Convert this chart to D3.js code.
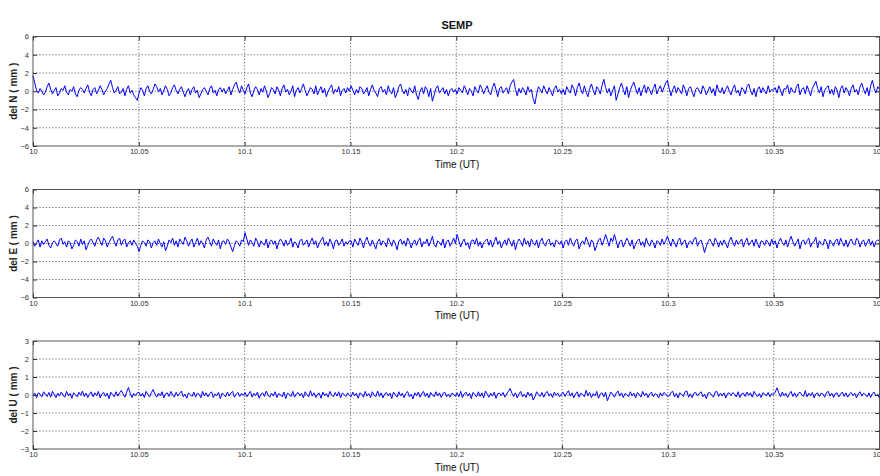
<!DOCTYPE html>
<html>
<head>
<meta charset="utf-8">
<script src="https://cdn.jsdelivr.net/npm/d3@7"></script>
<style>
  body { margin: 0; background: #fff; }
  svg { display: block; font-family: "Liberation Sans", Arial, sans-serif; }
  .tick text { font-size: 7.5px; fill: #333; }
  .domain { display: none; }
</style>
</head>
<body>
<script>
// sampled series, SEMP station, 10.0 .. 10.4 UT, evenly spaced samples
var timeStart = 10.0, timeEnd = 10.4;
var timeTicks = [10, 10.05, 10.1, 10.15, 10.2, 10.25, 10.3, 10.35, 10.4];
var neTicks = [-6, -4, -2, 0, 2, 4, 6];
var upTicks = [-3, -2, -1, 0, 1, 2, 3];

var delN = [
  1.7, 0.9, 0.1, -0.2, 0.3, 0.0, -0.4, -0.1, 0.5, 0.9, 0.2, -0.3, 0.1, 0.4, -0.5, -0.2, 0.3, 0.1, 0.6, -0.1, -0.4, 0.2, 0.0, 0.5, -0.3, -0.6, 0.1, 0.4, 0.2, -0.2,
  0.3, 0.7, -0.1, -0.5, 0.2, 0.4, -0.3, 0.1, 0.6, 0.2, -0.4, 0.0, 0.3, 0.8, 1.2, 0.4, -0.2, 0.1, 0.5, -0.3, -0.1, 0.3, -0.5, 0.2, 0.6, -0.2, 0.1, -0.4, -0.7, -1.0,
  -0.2, 0.4, 0.1, -0.5, 0.3, 0.6, 0.0, -0.3, 0.2, 0.8, 0.5, -0.1, 0.3, -0.4, 0.1, 0.6, 0.2, -0.5, -0.2, 0.4, 0.7, 0.1, -0.3, 0.2, 0.5, -0.1, -0.6, 0.0, 0.3, -0.4,
  0.2, 0.5, -0.2, 0.1, -0.7, -0.3, 0.2, 0.4, 0.0, -0.4, 0.3, 0.6, -0.2, 0.1, -0.5, 0.2, 0.4, -0.1, 0.3, -0.3, 0.1, 0.5, -0.4, 0.2, 0.7, 1.0, 0.3, -0.2, 0.6, 0.1,
  -0.3, 0.4, 0.8, -0.2, -0.6, 0.1, 0.5, 0.2, -0.4, 0.3, -0.1, 0.6, 0.0, -0.7, -0.2, 0.4, 0.2, -0.3, 0.5, 0.1, -0.5, 0.3, 0.7, -0.1, 0.2, -0.4, 0.0, 0.6, -0.6, 0.1,
  0.4, -0.2, 0.3, 0.8, 0.1, -0.5, -0.1, 0.4, 0.2, -0.3, 0.6, -0.4, 0.1, 0.5, -0.2, 0.3, -0.6, 0.0, 0.4, 0.7, -0.3, 0.2, -0.1, 0.5, -0.5, 0.1, 0.3, -0.2, 0.4, 0.0,
  0.6, 0.1, -0.4, 0.2, -0.2, 0.5, 0.3, -0.3, 0.0, 0.4, -0.5, 0.2, 0.7, 0.1, -0.2, -0.6, 0.3, 0.5, -0.1, 0.2, -0.4, 0.6, 0.0, -0.3, 0.4, -0.7, -0.2, 0.5, 0.8, 0.1,
  -0.3, 0.2, -0.5, 0.4, 0.1, -0.2, 0.6, -0.4, -0.9, 0.0, 0.4, -0.3, 0.5, 0.2, -0.6, 0.3, -1.1, -0.4, 0.3, 0.6, -0.2, 0.1, 0.4, -0.3, 0.2, -0.5, 0.1, 0.3, -0.1, 0.2,
  -0.3, 0.4, 0.1, -0.2, 0.6, 0.2, -0.4, 0.3, 0.0, -0.5, 0.5, 0.1, -0.2, 0.7, 0.3, -0.3, 0.2, 0.6, -0.1, -0.4, 0.4, 0.9, 0.2, -0.6, 0.3, 0.5, -0.2, 0.1, 0.4, -0.3,
  0.6, 1.0, 1.3, 0.2, -0.5, 0.3, -0.2, 0.4, 0.1, -0.4, 0.5, -0.1, 0.2, -0.8, -1.4, -0.3, 0.5, 0.2, -0.2, 0.6, 0.1, -0.3, 0.4, 0.0, -0.5, 0.3, 0.6, -0.1, 0.2, -0.3,
  0.2, -0.4, 0.5, 0.1, -0.2, 0.7, 0.3, -0.5, 0.4, 0.9, 0.2, -0.3, 0.6, -0.1, -0.6, 0.3, 0.8, 0.1, -0.4, 0.5, 0.2, -0.3, 0.6, 1.3, 0.4, -0.2, 0.3, -0.5, 0.1, 0.6,
  -1.0, -0.3, 0.4, 0.9, 0.2, -0.4, 0.5, -0.7, 0.1, 0.6, 1.0, 0.3, -0.3, 0.4, -0.5, 0.2, 0.7, -0.2, 0.5, 0.1, -0.4, 0.3, 0.8, -0.3, 0.2, 0.6, -0.1, 0.4, 0.9, 1.2,
  0.3, -0.5, 0.2, 0.6, -0.2, 0.4, 0.1, -0.3, 0.7, 0.2, -0.5, 0.3, 0.5, -0.1, -0.6, 0.2, 0.4, 0.0, -0.3, 0.6, 0.2, -0.4, 0.1, 0.5, -0.2, 0.3, -0.5, 0.7, 0.1, -0.2,
  0.4, -0.3, 0.2, 0.6, 0.0, -0.4, 0.3, 0.7, -0.2, 0.1, -0.5, 0.4, 0.2, -0.3, 0.5, 0.8, 0.1, -0.4, 0.3, -0.6, 0.2, 0.5, -0.2, 0.4, 0.0, -0.3, 0.6, -0.1, 0.2, 0.1,
  0.4, -0.2, 0.6, 0.1, -0.5, 0.3, 0.2, 0.7, -0.3, 0.4, 0.0, -0.2, 0.5, 0.8, -0.4, 0.2, 0.4, -0.3, 0.6, 0.1, -0.5, 0.3, 0.7, 1.1, 0.3, -0.2, 0.5, -0.6, 0.1, 0.4,
  0.6, -0.3, 0.2, -0.4, 0.5, 0.1, -0.7, 0.3, 0.6, -0.2, 0.4, 0.1, -0.5, 0.3, 0.7, -0.1, 0.2, -0.4, 0.5, 0.9, 0.2, -0.3, 0.4, -0.5, 0.6, 1.2, 0.3, -0.2, 0.5, 0.2
];

var delE = [
  0.2, -0.3, 0.1, 0.4, -0.4, 0.3, -0.1, 0.2, 0.5, -0.2, -0.5, 0.1, 0.3, 0.0, -0.3, 0.4, 0.6, -0.1, 0.2, -0.4, 0.3, 0.1, -0.6, -0.2, 0.4, 0.2, -0.3, 0.5, -0.1, 0.3,
  -0.7, -0.2, 0.3, 0.5, 0.1, -0.3, 0.4, 0.7, 0.2, -0.2, 0.6, 0.3, -0.4, 0.1, 0.5, 0.8, 0.2, -0.3, 0.4, 0.6, -0.2, 0.3, 0.5, -0.4, 0.1, 0.3, -0.2, 0.4, 0.0, -0.3,
  -0.9, -0.2, 0.3, 0.1, -0.3, 0.4, 0.2, -0.5, 0.1, 0.3, -0.2, 0.5, 0.0, -0.4, 0.2, -0.8, -0.3, 0.4, 0.1, 0.6, -0.2, 0.3, -0.4, 0.5, 0.2, -0.1, 0.7, 0.3, -0.3, 0.2,
  0.5, -0.4, 0.1, 0.6, -0.2, 0.3, 0.0, -0.5, 0.4, 0.7, 0.2, -0.3, 0.5, 0.1, -0.2, 0.4, -0.6, 0.2, 0.3, -0.1, 0.5, 0.2, -0.4, -0.9, -0.2, 0.3, 0.1, -0.3, 0.4, 0.2,
  1.2, 0.5, -0.2, 0.4, 0.1, -0.3, 0.6, 0.2, -0.4, 0.3, 0.0, -0.2, 0.5, -0.5, 0.2, 0.4, -0.1, 0.3, -0.6, 0.1, 0.5, 0.2, -0.3, 0.4, -0.2, 0.1, 0.6, -0.4, 0.2, 0.0,
  -0.5, 0.3, 0.5, -0.2, 0.1, 0.4, -0.4, 0.2, 0.6, -0.1, 0.3, -0.5, 0.0, 0.4, 0.7, -0.2, 0.2, -0.3, 0.5, 0.1, -0.6, 0.3, 0.4, -0.2, 0.1, 0.5, -0.3, 0.2, -0.1, 0.3,
  0.3, -0.4, 0.5, 0.1, -0.2, 0.6, 0.2, -0.5, 0.3, 0.7, 0.0, -0.3, 0.4, -0.1, -0.6, 0.2, 0.5, -0.2, 0.3, 0.1, -0.4, 0.6, 0.2, -0.3, 0.4, 0.0, -0.7, 0.2, 0.5, -0.1,
  0.3, -0.3, 0.6, 0.2, -0.5, 0.1, 0.4, -0.2, 0.3, 0.6, -0.4, 0.2, 0.0, 0.5, -0.3, 0.2, 0.8, -0.1, -0.4, 0.3, 0.1, -0.2, 0.5, -0.5, 0.2, 0.4, -0.3, 0.1, 0.6, 0.0,
  1.0, 0.3, -0.4, 0.2, 0.5, -0.2, 0.1, -0.6, 0.3, 0.4, -0.1, 0.6, -0.3, 0.2, -0.5, 0.1, 0.3, 0.5, -0.2, 0.4, -0.4, 0.2, 0.7, -0.1, 0.3, -0.5, 0.0, 0.4, -0.2, 0.6,
  0.2, -0.3, 0.4, -0.7, 0.1, 0.5, 0.2, -0.3, 0.6, -0.1, 0.3, -0.4, 0.5, 0.1, -0.2, 0.4, -0.5, 0.2, 0.6, 0.0, -0.3, 0.3, 0.5, -0.2, 0.1, -0.4, 0.4, 0.2, -0.1, 0.3,
  -0.5, 0.2, 0.4, -0.2, 0.6, 0.1, -0.3, 0.3, 0.5, -0.6, 0.0, 0.3, -0.1, 0.7, 0.2, -0.4, 0.4, 0.1, -0.8, -0.2, 0.4, 0.6, -0.2, 0.3, 1.0, 0.4, -0.3, 0.6, 0.2, 1.0,
  0.3, -0.5, 0.2, 0.4, -0.4, 0.1, 0.6, 0.2, -0.3, 0.4, -0.6, -0.1, 0.3, 0.5, -0.2, 0.2, -0.4, 0.6, 0.0, -0.3, 0.4, 0.1, -0.5, 0.3, 0.2, -0.2, 0.5, -0.1, 0.3, 0.8,
  0.2, -0.3, 0.5, 0.1, -0.4, 0.3, 0.6, -0.2, 0.2, 0.4, -0.5, 0.1, 0.3, -0.1, 0.5, 0.7, -0.3, 0.2, 0.4, -0.2, -1.0, -0.3, 0.2, 0.5, 0.1, -0.3, 0.6, 0.2, -0.4, 0.3,
  -0.2, 0.4, 0.0, -0.5, 0.3, 0.7, 0.1, -0.3, 0.4, -0.1, 0.2, 0.5, -0.4, 0.2, 0.6, -0.2, 0.1, 0.4, -0.3, 0.5, 0.0, -0.5, 0.3, 0.2, -0.2, 0.4, 0.1, -0.3, 0.5, -0.1,
  0.3, -0.5, 0.2, 0.6, 0.1, -0.2, 0.4, -0.4, 0.3, 0.8, 0.2, -0.3, 0.1, 0.5, -0.6, 0.2, 0.4, -0.1, 0.3, 0.6, -0.4, 0.1, 0.2, 0.7, -0.5, 0.3, 0.0, -0.2, 0.5, 0.2,
  -0.6, 0.4, 0.1, -0.3, 0.3, 0.5, -0.2, 0.6, 0.1, -0.3, 0.4, -0.4, 0.2, 0.5, 0.0, -0.2, 0.6, 0.3, -0.4, 0.2, 0.4, -0.3, 0.1, 0.5, -0.2, 0.3, -0.4, 0.2, 0.4, 0.3
];

var delU = [
  -0.05, 0.1, -0.15, 0.12, 0.05, -0.1, 0.18, 0.02, -0.08, 0.14, -0.12, 0.2, 0.04, -0.15, 0.1, -0.06, 0.16, 0.0, -0.12, 0.2, -0.05, 0.08, -0.18, 0.12, 0.03, -0.1, 0.15, -0.02, 0.22, -0.08,
  0.1, -0.14, 0.05, 0.18, -0.1, 0.12, -0.04, 0.2, -0.16, 0.06, 0.14, -0.08, 0.1, -0.2, 0.15, 0.02, -0.1, 0.18, -0.06, 0.12, 0.25, 0.05, -0.12, 0.16, 0.42, 0.1, -0.14, 0.08, -0.05, 0.12,
  0.15, -0.06, 0.1, -0.14, 0.2, 0.02, -0.1, 0.14, 0.3, 0.05, -0.12, 0.1, -0.04, 0.18, -0.16, 0.06, 0.12, -0.08, 0.2, 0.0, -0.12, 0.15, -0.06, 0.1, 0.22, -0.1, 0.05, -0.18, 0.12, 0.02,
  -0.08, 0.16, -0.12, 0.1, 0.04, -0.15, 0.2, -0.05, 0.12, -0.1, 0.08, 0.18, -0.14, 0.06, -0.04, 0.14, -0.2, 0.1, 0.02, -0.1, 0.16, -0.06, 0.12, 0.2, -0.12, 0.05, 0.14, -0.08, 0.1, -0.02,
  0.14, -0.1, 0.06, 0.2, -0.12, 0.1, -0.04, 0.16, -0.18, 0.05, 0.12, -0.08, 0.22, 0.0, -0.12, 0.1, -0.06, 0.18, -0.14, 0.08, 0.02, -0.1, 0.16, -0.2, 0.1, 0.04, -0.08, 0.2, -0.12, 0.06,
  0.14, -0.05, 0.1, -0.16, 0.18, 0.02, -0.1, 0.24, -0.06, 0.12, -0.14, 0.05, 0.1, -0.18, 0.16, -0.04, 0.08, -0.12, 0.2, 0.0, -0.1, 0.14, -0.06, 0.18, -0.16, 0.1, 0.04, -0.08, 0.12, -0.02,
  -0.1, 0.16, -0.04, 0.1, -0.18, 0.12, 0.05, -0.12, 0.2, -0.06, 0.08, -0.14, 0.18, 0.0, -0.1, 0.22, -0.08, 0.12, -0.16, 0.06, 0.14, -0.05, 0.1, -0.2, 0.16, 0.02, -0.12, 0.18, -0.06, 0.1,
  -0.15, 0.08, 0.2, -0.1, 0.04, -0.22, 0.12, -0.04, 0.16, -0.12, 0.06, 0.2, -0.08, 0.1, -0.16, 0.14, 0.0, -0.1, 0.18, -0.05, 0.12, -0.14, 0.08, 0.16, -0.1, 0.04, -0.12, 0.1, 0.05, -0.08,
  0.12, -0.1, 0.2, -0.14, 0.06, 0.16, -0.06, 0.1, -0.2, 0.14, 0.02, -0.1, 0.18, -0.08, 0.12, -0.16, 0.22, 0.04, -0.12, 0.1, -0.06, 0.16, -0.18, 0.08, 0.1, -0.04, 0.14, -0.12, 0.05, 0.2,
  0.36, 0.1, -0.08, 0.12, -0.16, 0.06, 0.2, -0.1, 0.04, -0.14, 0.16, -0.06, 0.1, -0.28, -0.1, 0.18, 0.02, -0.08, 0.14, -0.12, 0.1, 0.2, -0.06, 0.08, -0.14, 0.16, -0.02, 0.1, -0.1, 0.06,
  0.15, -0.08, 0.1, 0.24, -0.06, 0.12, -0.16, 0.05, 0.18, -0.12, 0.1, 0.02, -0.1, 0.26, -0.04, 0.14, -0.15, 0.08, -0.05, 0.2, -0.18, 0.06, 0.12, -0.1, 0.16, -0.32, -0.08, 0.16, 0.04, -0.12,
  0.1, 0.22, -0.06, 0.12, -0.14, 0.08, 0.02, -0.1, 0.18, -0.06, 0.1, -0.16, 0.14, 0.04, -0.12, 0.2, -0.04, 0.1, -0.14, 0.06, 0.16, -0.1, 0.08, 0.02, -0.16, 0.12, -0.05, 0.14, 0.06, -0.08,
  -0.05, 0.14, 0.2, -0.1, 0.08, -0.16, 0.12, 0.04, -0.08, 0.18, 0.22, -0.12, 0.06, -0.15, 0.1, 0.14, -0.05, 0.08, 0.18, -0.1, 0.04, -0.2, 0.1, 0.14, 0.0, -0.12, 0.16, 0.2, -0.08, 0.1,
  -0.06, 0.12, -0.16, 0.08, 0.12, -0.04, 0.14, 0.05, -0.1, 0.18, -0.14, 0.06, 0.1, -0.08, 0.16, -0.02, 0.12, -0.12, 0.2, 0.04, -0.1, 0.08, -0.14, 0.12, 0.06, -0.06, 0.14, -0.1, 0.08, 0.02,
  0.15, 0.4, 0.12, -0.1, 0.16, -0.04, 0.1, -0.14, 0.06, 0.2, -0.08, 0.12, -0.12, 0.08, 0.16, 0.0, -0.08, 0.24, -0.1, 0.1, -0.05, 0.14, -0.16, 0.06, 0.12, -0.08, 0.1, 0.05, -0.12, 0.14,
  0.2, -0.06, 0.1, -0.14, 0.08, 0.12, -0.1, 0.05, 0.16, -0.08, 0.12, -0.12, 0.06, 0.14, -0.04, 0.1, -0.16, 0.08, 0.18, -0.06, 0.1, 0.02, -0.1, 0.12, -0.14, 0.08, 0.16, -0.06, 0.04, -0.2
];

var width = 880, height = 476;
var left = 33, right = 879.5;

var panels = [
  {values: delN, label: "del N ( mm )", ticks: neTicks, top: 36.5, bottom: 146},
  {values: delE, label: "del E ( mm )", ticks: neTicks, top: 189.5, bottom: 297.5},
  {values: delU, label: "del U ( mm )", ticks: upTicks, top: 341, bottom: 449}
];

var svg = d3.select("body").append("svg")
    .attr("width", width)
    .attr("height", height);

var x = d3.scaleLinear()
    .domain([timeStart, timeEnd])
    .range([left, right]);

var fmt = function(d) { return String(+d.toFixed(2)); };

svg.append("text")
    .attr("x", 457)
    .attr("y", 29)
    .attr("text-anchor", "middle")
    .style("font-size", "11px")
    .style("font-weight", "bold")
    .style("fill", "#111")
    .text("SEMP");

panels.forEach(function(p) {
  var y = d3.scaleLinear()
      .domain(d3.extent(p.ticks))
      .range([p.bottom, p.top]);

  var g = svg.append("g");

  // grid
  g.append("g").selectAll("line")
      .data(timeTicks.slice(1, -1))
    .enter().append("line")
      .attr("x1", function(d) { return x(d); })
      .attr("x2", function(d) { return x(d); })
      .attr("y1", p.top)
      .attr("y2", p.bottom)
      .attr("stroke", "#444")
      .attr("stroke-width", 0.8)
      .attr("stroke-dasharray", "1.2,2");

  g.append("g").selectAll("line")
      .data(p.ticks.slice(1, -1))
    .enter().append("line")
      .attr("x1", left)
      .attr("x2", right)
      .attr("y1", function(d) { return y(d); })
      .attr("y2", function(d) { return y(d); })
      .attr("stroke", "#444")
      .attr("stroke-width", 0.8)
      .attr("stroke-dasharray", "1.2,2");

  // series
  var n = p.values.length;
  var line = d3.line()
      .x(function(d, i) { return x(timeStart + (timeEnd - timeStart) * i / (n - 1)); })
      .y(function(d) { return y(d); });

  g.append("path")
      .datum(p.values)
      .attr("fill", "none")
      .attr("stroke", "#0000ff")
      .attr("stroke-width", 1)
      .attr("stroke-linejoin", "round")
      .attr("d", line);

  // axes, ticks pointing inward
  g.append("g")
      .attr("transform", "translate(0," + p.bottom + ")")
      .call(d3.axisBottom(x).tickValues(timeTicks).tickSize(-4).tickPadding(3).tickFormat(fmt))
      .call(function(a) { a.selectAll("line").attr("stroke", "#333"); });

  g.append("g")
      .attr("transform", "translate(0," + p.top + ")")
      .call(d3.axisTop(x).tickValues(timeTicks).tickSize(-4).tickFormat(""))
      .call(function(a) { a.selectAll("line").attr("stroke", "#333"); });

  g.append("g")
      .attr("transform", "translate(" + left + ",0)")
      .call(d3.axisLeft(y).tickValues(p.ticks).tickSize(-4).tickPadding(4).tickFormat(d3.format("d")))
      .call(function(a) { a.selectAll("line").attr("stroke", "#333"); });

  g.append("g")
      .attr("transform", "translate(" + right + ",0)")
      .call(d3.axisRight(y).tickValues(p.ticks).tickSize(-4).tickFormat(""))
      .call(function(a) { a.selectAll("line").attr("stroke", "#333"); });

  g.append("rect")
      .attr("x", left)
      .attr("y", p.top)
      .attr("width", right - left)
      .attr("height", p.bottom - p.top)
      .attr("fill", "none")
      .attr("stroke", "#444")
      .attr("stroke-width", 0.9);

  g.append("text")
      .attr("x", 457)
      .attr("y", p.bottom + 21.5)
      .attr("text-anchor", "middle")
      .style("font-size", "10px")
      .style("fill", "#111")
      .text("Time (UT)");

  g.append("text")
      .attr("transform", "translate(17," + (p.top + p.bottom) / 2 + ") rotate(-90)")
      .attr("text-anchor", "middle")
      .style("font-size", "10px")
      .style("font-weight", "bold")
      .style("fill", "#222")
      .text(p.label);
});
</script>
</body>
</html>
